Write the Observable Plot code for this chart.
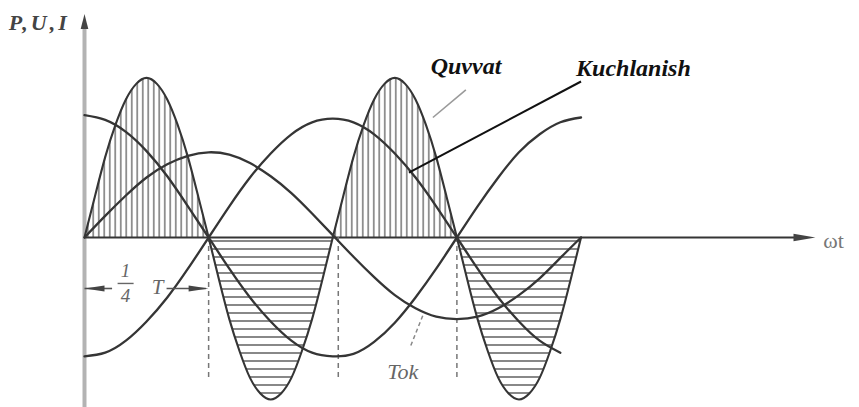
<!DOCTYPE html>
<html>
<head>
<meta charset="utf-8">
<script src="https://cdn.jsdelivr.net/npm/d3@7"></script>
<script src="https://cdn.jsdelivr.net/npm/@observablehq/plot@0.6"></script>
<style>
  html, body { margin: 0; padding: 0; background: #fff; }
  #chart svg { display: block; }
  #chart svg text { font-family: "Liberation Serif", "Times New Roman", "DejaVu Serif", serif !important; }
</style>
</head>
<body>
<div id="chart"></div>
<script>
// ---- Data (x in degrees of ωt, y in relative units) ----
const theta15 = [0,15,30,45,60,75,90,105,120,135,150,165,180,195,210,225,240,255,270,285,300,315,330,345,360];
// first cosine-like curve (starts high)
const egri1 = [1.02,0.98,0.88,0.72,0.51,0.26,0,-0.26,-0.50,-0.70,-0.86,-0.96,-0.99,-0.97,-0.87,-0.71,-0.50,-0.26,0,0.26,0.50,0.71,0.86,0.96,1.00];
// Kuchlanish (starts low, ends at 345°)
const kuchlanish = [-0.99,-0.96,-0.86,-0.70,-0.50,-0.26,0,0.26,0.50,0.70,0.86,0.96,0.99,0.96,0.86,0.70,0.50,0.26,0,-0.26,-0.50,-0.70,-0.86,-0.96];
// Tok (smaller amplitude)
const tok = [0,0.18,0.35,0.50,0.61,0.68,0.71,0.69,0.62,0.51,0.37,0.20,0.02,-0.16,-0.33,-0.48,-0.59,-0.66,-0.68,-0.66,-0.59,-0.48,-0.34,-0.17,0];
// Quvvat (power), every 7.5°
const theta7 = [0,7.5,15,22.5,30,37.5,45,52.5,60,67.5,75,82.5,90,97.5,105,112.5,120,127.5,135,142.5,150,157.5,165,172.5,180,187.5,195,202.5,210,217.5,225,232.5,240,247.5,255,262.5,270,277.5,285,292.5,300,307.5,315,322.5,330,337.5,345,352.5,360];
const quvvat = [0,0.34,0.67,0.94,1.15,1.28,1.33,1.28,1.15,0.94,0.67,0.34,0,
  -0.35,-0.68,-0.95,-1.17,-1.30,-1.35,-1.30,-1.17,-0.95,-0.68,-0.35,0,
  0.34,0.67,0.94,1.15,1.28,1.33,1.28,1.15,0.94,0.67,0.34,0,
  -0.35,-0.68,-0.95,-1.17,-1.30,-1.35,-1.30,-1.17,-0.95,-0.68,-0.35,0];
const quarterMarks = [90, 184, 270];           // dashed verticals
const axisEnd = 530;                            // ωt axis length (deg)

// Annotation anchors (data units)
const labelText = ["Quvvat", "Kuchlanish", "Tok"];
const labelX = [251, 356.4, 230.8];
const labelY = [1.425, 1.408, -1.117];
const pointerX1 = [276.5, 360, 236.6];
const pointerY1 = [1.23, 1.30, -0.90];
const pointerX2 = [252.6, 235.2, 246];
const pointerY2 = [1.00, 0.54, -0.63];

// ---- Build tables ----
const c1 = theta15.map((t, i) => ({t, v: egri1[i]}));
const cU = kuchlanish.map((v, i) => ({t: theta15[i], v}));
const cI = theta15.map((t, i) => ({t, v: tok[i]}));
const power = theta7.map((t, i) => ({t, p: quvvat[i]}));
const lobes = [0,1,2,3].flatMap(k => power.filter(d => d.t >= 90*k && d.t <= 90*(k+1)).map(d => ({...d, lobe: k})));
const posLobes = lobes.filter(d => d.lobe % 2 === 0);
const negLobes = lobes.filter(d => d.lobe % 2 === 1);

function arrowSymbol(ratio) {
  return {draw(ctx, size) {
    const s = Math.sqrt(size);
    ctx.moveTo(s, 0);
    ctx.lineTo(-s, -s * ratio);
    ctx.lineTo(-s, s * ratio);
    ctx.closePath();
  }};
}

const ink = "#353535";
const serif = "Liberation Serif, Times New Roman, DejaVu Serif, serif";

const chart = Plot.plot({
  width: 859,
  height: 407,
  marginLeft: 84,
  marginRight: 44,
  marginTop: 0,
  marginBottom: 0,
  x: {domain: [0, axisEnd], axis: null},
  y: {domain: [-170/120, 237/120], axis: null},
  style: {background: "#fff", overflow: "visible", fontFamily: serif},
  marks: [
    // hatched power lobes
    Plot.areaY(posLobes, {x: "t", y: "p", z: "lobe", fill: "url(#vhatch)", curve: "natural"}),
    Plot.areaY(negLobes, {x: "t", y: "p", z: "lobe", fill: "url(#hhatch)", curve: "natural"}),
    // y axis (grey, thick)
    Plot.ruleX([0], {y1: -1.42, y2: 1.78, stroke: "#b3b3b3", strokeWidth: 4}),
    Plot.dot([0], {x: 0, y: 1.80, symbol: arrowSymbol(0.5), r: 4.3, rotate: -90, fill: "#444", stroke: "none"}),
    // x axis
    Plot.ruleY([0], {x1: 0, x2: axisEnd - 10, stroke: ink, strokeWidth: 2}),
    Plot.dot([0], {x: axisEnd - 8, y: 0, symbol: arrowSymbol(0.33), r: 6.2, fill: "#444", stroke: "none"}),
    // dashed quarter lines
    Plot.ruleX(quarterMarks, {y1: 0, y2: -1.19, stroke: "#777", strokeWidth: 1.5, strokeDasharray: "5,4"}),
    // curves
    Plot.line(c1, {x: "t", y: "v", curve: "natural", stroke: ink, strokeWidth: 2.3}),
    Plot.line(cU, {x: "t", y: "v", curve: "natural", stroke: ink, strokeWidth: 2.3}),
    Plot.line(cI, {x: "t", y: "v", curve: "natural", stroke: ink, strokeWidth: 2.3}),
    Plot.line(lobes, {x: "t", y: "p", z: "lobe", curve: "natural", stroke: ink, strokeWidth: 2.1}),
    // pointers
    Plot.link([0], {x1: pointerX1[0], y1: pointerY1[0], x2: pointerX2[0], y2: pointerY2[0], stroke: "#9a9a9a", strokeWidth: 1.6}),
    Plot.link([1], {x1: pointerX1[1], y1: pointerY1[1], x2: pointerX2[1], y2: pointerY2[1], stroke: "#111", strokeWidth: 2}),
    Plot.link([2], {x1: pointerX1[2], y1: pointerY1[2], x2: pointerX2[2], y2: pointerY2[2], stroke: "#888", strokeWidth: 1.5, strokeDasharray: "4,3"}),
    // labels
    Plot.text([0, 1], {x: i => labelX[i], y: i => labelY[i], text: i => labelText[i], textAnchor: "start", fontSize: 24, fontWeight: "bold", fontStyle: "italic", fontFamily: serif, fill: "#111"}),
    Plot.text([2], {x: i => labelX[i], y: i => labelY[i], text: i => labelText[i], textAnchor: "middle", fontSize: 22, fontStyle: "italic", fontFamily: serif, fill: "#666"}),
    Plot.text(["P,U,I"], {x: -55, y: 1.79, textAnchor: "start", fontSize: 22, fontWeight: "bold", fontStyle: "italic", fontFamily: serif, fill: "#444"}),
    Plot.text(["ωt"], {x: 535.6, y: -0.03, textAnchor: "start", fontSize: 22, fontFamily: serif, fill: "#777"}),
    // 1/4 T annotation
    Plot.link([0], {x1: 0, x2: 20, y1: -0.425, y2: -0.425, stroke: "#555", strokeWidth: 1.6}),
    Plot.link([0], {x1: 59.5, x2: 88, y1: -0.425, y2: -0.425, stroke: "#555", strokeWidth: 1.6}),
    Plot.dot([0], {x: 7.3, y: -0.425, symbol: arrowSymbol(0.3), r: 5.6, rotate: 180, fill: "#444", stroke: "none"}),
    Plot.dot([0], {x: 82.7, y: -0.425, symbol: arrowSymbol(0.3), r: 5.6, fill: "#444", stroke: "none"}),
    Plot.link([0], {x1: 24, x2: 35.6, y1: -0.383, y2: -0.383, stroke: "#666", strokeWidth: 1.4}),
    Plot.text(["1"], {x: 29.8, y: -0.275, fontSize: 19, fontStyle: "italic", fontFamily: serif, fill: "#666"}),
    Plot.text(["4"], {x: 29.8, y: -0.49, fontSize: 19, fontStyle: "italic", fontFamily: serif, fill: "#666"}),
    Plot.text(["T"], {x: 53, y: -0.417, fontSize: 21, fontStyle: "italic", fontFamily: serif, fill: "#666"})
  ]
});

const ns = "http://www.w3.org/2000/svg";
const defs = document.createElementNS(ns, "defs");
defs.innerHTML = `
  <pattern id="vhatch" patternUnits="userSpaceOnUse" x="85" y="0" width="5.5" height="10">
    <rect width="5.5" height="10" fill="#ffffff"/>
    <line x1="2.75" y1="0" x2="2.75" y2="10" stroke="#8c8c8c" stroke-width="1.8"/>
  </pattern>
  <pattern id="hhatch" patternUnits="userSpaceOnUse" x="0" y="237" width="10" height="8">
    <rect width="10" height="8" fill="#ffffff"/>
    <line x1="0" y1="4" x2="10" y2="4" stroke="#555555" stroke-width="1.4"/>
  </pattern>`;
chart.insertBefore(defs, chart.firstChild);
d3.select(chart).selectAll("text")
  .filter(function() { return this.textContent === "P,U,I"; })
  .attr("letter-spacing", 3);
document.getElementById("chart").appendChild(chart);
</script>
</body>
</html>
